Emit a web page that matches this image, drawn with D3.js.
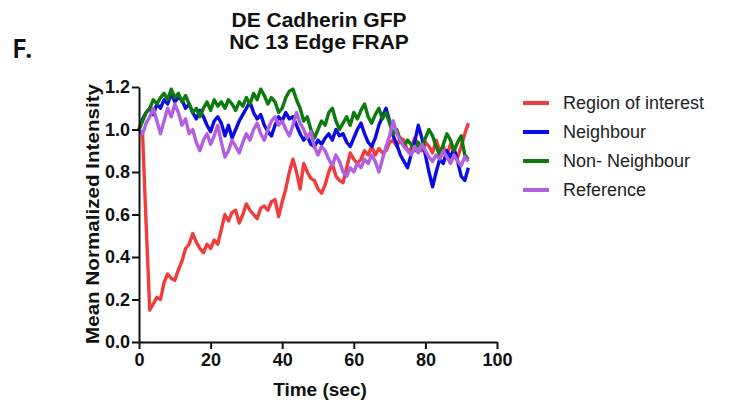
<!DOCTYPE html>
<html>
<head>
<meta charset="utf-8">
<script src="https://cdn.jsdelivr.net/npm/d3@7"></script>
<style>
  body { margin: 0; background: #fff; }
  text { font-family: "Liberation Sans", Arial, sans-serif; fill: #111; }
  .axis path, .axis line { stroke: #111; stroke-width: 2; }
  .axis text { font-size: 18px; font-weight: bold; fill: #111; }
  .serie { fill: none; stroke-width: 3.4; stroke-linejoin: round; }
</style>
</head>
<body>
<div id="container"></div>
<script>
// valores leidos a ojo de la figura (un punto por segundo)
const time = [0,1,2,3,4,5,6,7,8,9,10,11,12,13,14,15,16,17,18,19,20,21,22,23,24,25,26,27,28,29,
  30,31,32,33,34,35,36,37,38,39,40,41,42,43,44,45,46,47,48,49,50,51,52,53,54,55,56,57,58,59,
  60,61,62,63,64,65,66,67,68,69,70,71,72,73,74,75,76,77,78,79,80,81,82,83,84,85,86,87,88,89,
  90,91,92];

const roi = [1.00,0.98,0.55,0.15,0.18,0.21,0.20,0.28,0.32,0.30,0.29,0.34,0.38,0.44,0.46,0.51,0.47,0.44,0.42,0.46,
  0.44,0.48,0.46,0.53,0.60,0.57,0.61,0.62,0.56,0.60,0.65,0.62,0.60,0.58,0.63,0.64,0.62,0.66,0.67,0.59,
  0.66,0.72,0.80,0.86,0.80,0.72,0.84,0.80,0.77,0.76,0.72,0.70,0.74,0.80,0.84,0.78,0.76,0.75,0.82,0.89,
  0.86,0.84,0.86,0.90,0.88,0.92,0.88,0.91,0.89,0.90,0.94,0.95,0.92,0.96,0.95,0.90,0.91,0.96,0.93,0.90,
  0.94,0.92,0.89,0.95,0.90,0.92,0.88,0.93,0.90,0.87,0.92,0.98,1.03];

const neighbour = [1.00,1.05,1.08,1.10,1.07,1.12,1.10,1.14,1.12,1.17,1.13,1.15,1.14,1.10,1.12,1.08,1.05,1.09,1.06,1.02,
  0.99,1.04,1.06,1.03,0.97,1.02,0.96,1.00,1.04,1.07,1.10,1.13,1.08,1.05,1.07,1.02,0.99,0.97,1.02,1.06,
  1.04,1.08,1.05,1.06,1.02,0.98,0.95,0.97,0.93,0.92,0.95,0.93,0.96,0.98,0.95,1.00,0.97,0.98,0.94,0.92,
  0.96,1.00,1.03,0.98,0.94,0.92,0.96,1.02,1.06,1.10,1.04,0.97,0.93,0.88,0.85,0.82,0.88,0.94,1.02,0.96,
  0.88,0.80,0.73,0.80,0.86,0.84,0.90,0.87,0.91,0.85,0.78,0.76,0.82];

const nonNeighbour = [1.00,1.04,1.08,1.10,1.14,1.12,1.15,1.17,1.14,1.19,1.15,1.17,1.13,1.16,1.12,1.08,1.10,1.06,1.10,1.13,
  1.09,1.14,1.11,1.13,1.10,1.14,1.12,1.09,1.13,1.11,1.15,1.12,1.17,1.14,1.19,1.16,1.12,1.15,1.13,1.08,
  1.10,1.15,1.18,1.19,1.14,1.10,1.04,1.06,1.00,0.96,1.00,1.04,1.02,1.08,1.10,1.04,1.00,1.03,1.06,1.02,
  1.08,1.05,1.09,1.12,1.06,1.03,1.07,1.10,1.05,1.08,1.03,0.98,1.00,0.95,0.92,0.95,0.93,0.90,0.94,0.91,
  0.96,1.00,0.97,0.92,0.88,0.93,0.98,0.95,0.90,0.94,0.97,0.88,0.86];

const reference = [1.00,0.98,1.03,1.06,1.10,1.04,0.98,1.04,1.10,1.06,1.12,1.08,1.02,1.05,0.98,1.00,0.94,0.90,0.95,0.98,
  0.93,0.97,1.02,0.94,0.87,0.90,0.95,0.92,0.89,0.94,0.98,0.95,1.00,1.03,0.98,0.95,1.00,1.04,1.06,1.02,
  1.04,1.00,0.97,1.02,1.08,1.03,1.00,0.96,0.99,0.92,0.88,0.92,0.90,0.86,0.83,0.88,0.85,0.80,0.78,0.82,
  0.80,0.84,0.82,0.86,0.84,0.88,0.85,0.80,0.86,0.92,0.97,1.04,0.98,0.95,0.92,0.90,0.88,0.92,0.89,0.93,
  0.90,0.87,0.85,0.88,0.86,0.90,0.87,0.84,0.88,0.85,0.83,0.87,0.85];

const seriesNames = ["Region of interest", "Neighbour", "Non- Neighbour", "Reference"];
const seriesColors = ["#f03c3c", "#0a0ae6", "#0c7a0c", "#b25fe0"];
const xTicks = [0, 20, 40, 60, 80, 100];
const yTicks = [0.0, 0.2, 0.4, 0.6, 0.8, 1.0, 1.2];

const WIDTH = 729,
      HEIGHT = 407;

const margin = { top: 87, bottom: 65, left: 139, right: 232 };

const width = WIDTH - margin.left - margin.right,
      height = HEIGHT - margin.top - margin.bottom;

const svg = d3.select('#container')
    .append('svg')
    .attr("width", WIDTH)
    .attr("height", HEIGHT);

const container = svg.append('g')
    .attr("transform", `translate(${margin.left}, ${margin.top})`);

const xScale = d3.scaleLinear().domain([0, 100]).range([0, width]);
const yScale = d3.scaleLinear().domain([0, 1.2]).range([height, 0]);

const xAxis = d3.axisBottom(xScale).tickValues(xTicks).tickFormat(d3.format("d"))
    .tickSize(7).tickSizeOuter(0).tickPadding(4);
const yAxis = d3.axisLeft(yScale).tickValues(yTicks).tickFormat(d3.format(".1f"))
    .tickSize(7).tickSizeOuter(0).tickPadding(2);

// lineas de datos
const data = [roi, neighbour, nonNeighbour, reference];
const line = d3.line()
    .x((d, i) => xScale(time[i]))
    .y((d) => yScale(d));

container.selectAll(".serie")
    .data(data)
    .join("path")
    .attr("class", "serie")
    .attr("stroke", (d, i) => seriesColors[i])
    .attr("d", line);

container.append("g")
    .attr("class", "axis")
    .attr("transform", `translate(0, ${height})`)
    .call(xAxis);

container.append("g")
    .attr("class", "axis")
    .call(yAxis);

// titulos
svg.append("text")
    .attr("x", 319).attr("y", 27)
    .attr("text-anchor", "middle")
    .style("font-size", "21px").style("font-weight", "bold")
    .text("DE Cadherin GFP");

svg.append("text")
    .attr("x", 319).attr("y", 49)
    .attr("text-anchor", "middle")
    .style("font-size", "21px").style("font-weight", "bold")
    .text("NC 13 Edge FRAP");

svg.append("text")
    .attr("x", 12).attr("y", 58)
    .style("font-family", "'Noto Sans', sans-serif")
    .style("font-size", "27px").style("font-weight", "600")
    .text("F.");

svg.append("text")
    .attr("x", 320).attr("y", 396)
    .attr("text-anchor", "middle")
    .style("font-size", "19px").style("font-weight", "bold")
    .text("Time (sec)");

svg.append("text")
    .attr("transform", "rotate(-90)")
    .attr("x", -214).attr("y", 99)
    .attr("text-anchor", "middle")
    .attr("textLength", 260)
    .attr("lengthAdjust", "spacingAndGlyphs")
    .style("font-size", "19px").style("font-weight", "bold")
    .text("Mean Normalized Intensity");

// leyenda
const legend = svg.append("g")
    .attr("transform", "translate(523, 103)");

const items = legend.selectAll("g")
    .data(seriesNames)
    .join("g")
    .attr("transform", (d, i) => `translate(0, ${i * 29})`);

items.append("line")
    .attr("x1", 0).attr("x2", 26)
    .attr("y1", 0).attr("y2", 0)
    .attr("stroke-width", 4)
    .attr("stroke", (d, i) => seriesColors[i]);

items.append("text")
    .attr("x", 40).attr("y", 6)
    .style("font-size", "18px")
    .style("fill", "#222")
    .text((d) => d);
</script>
</body>
</html>
